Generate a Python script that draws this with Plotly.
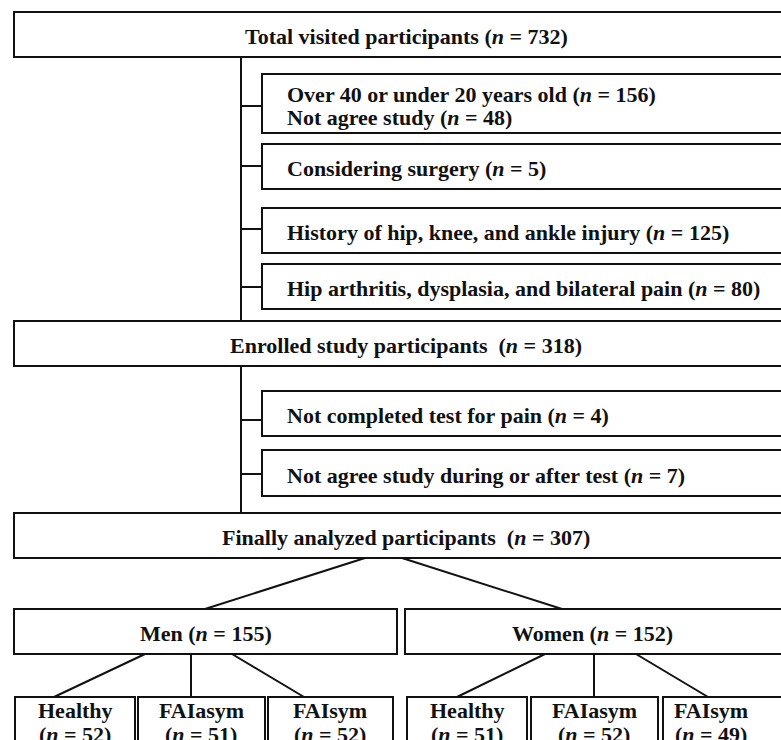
import plotly.graph_objects as go

# ---- data (labels and counts) ----
main_labels = ["Total visited participants", "Enrolled study participants ", "Finally analyzed participants "]
main_n = [732, 318, 307]

excl_labels = [
    ["Over 40 or under 20 years old", "Not agree study"],
    ["Considering surgery"],
    ["History of hip, knee, and ankle injury"],
    ["Hip arthritis, dysplasia, and bilateral pain"],
    ["Not completed test for pain"],
    ["Not agree study during or after test"],
]
excl_n = [[156, 48], [5], [125], [80], [4], [7]]

sex_labels = ["Men", "Women"]
sex_n = [155, 152]

group_labels = ["Healthy", "FAIasym", "FAIsym", "Healthy", "FAIasym", "FAIsym"]
group_n = [52, 51, 52, 51, 52, 49]

# ---- layout geometry (pixel-like coordinates) ----
main_y = [(12, 57), (321, 366), (513, 558)]
main_x = (14, 800)
main_text_x = 406
excl_y = [(74, 133), (144, 189), (208, 253), (264, 309), (391, 436), (450, 496)]
excl_x = (262, 800)
excl_text_x = 285
tick_y = [106, 166, 229, 287, 420, 474]
spine_x = 241
spines = [(57, 321), (366, 513)]
sex_x = [(14, 397), (405, 800)]
sex_y = (609, 654)
sex_text_x = [206, 592]
group_x = [(15, 135), (138, 265), (268, 393), (407, 527), (531, 658), (663, 800)]
group_text_x = [75, 201, 330, 467, 594, 711]
group_y = (697, 770)
group_text_y = (710, 734)
split_lines = [((365, 558), (205, 609)), ((402, 558), (562, 609))]
sub_lines = [
    ((145, 654), (54, 697)), ((191, 654), (191, 697)), ((232, 654), (304, 697)),
    ((545, 654), (457, 697)), ((594, 654), (594, 697)), ((636, 654), (708, 697)),
]
LINE_GAP = 23

FONT = dict(family="Liberation Serif", size=22, color="#111111")
LW = 2
LC = "#111111"

shapes = []
annotations = []

def rect(x0, y0, x1, y1):
    shapes.append(dict(type="rect", xref="x", yref="y", x0=x0, x1=x1, y0=y0, y1=y1,
                       line=dict(color=LC, width=LW), fillcolor="white", layer="below"))

def line(p0, p1):
    shapes.append(dict(type="line", xref="x", yref="y", x0=p0[0], y0=p0[1], x1=p1[0], y1=p1[1],
                       line=dict(color=LC, width=LW), layer="below"))

def text(x, y, s, xanchor="center"):
    annotations.append(dict(x=x, y=y, xref="x", yref="y", text=s, showarrow=False,
                            xanchor=xanchor, yanchor="middle", align="left" if xanchor == "left" else "center",
                            font=FONT))

def nlab(label, n):
    return f"<b>{label} (<i>n</i> = {n})</b>"

# spines and ticks
for (y0, y1) in spines:
    line((spine_x, y0), (spine_x, y1))
for ty in tick_y:
    line((spine_x, ty), (excl_x[0], ty))

# main boxes
for (y0, y1), lab, n in zip(main_y, main_labels, main_n):
    rect(main_x[0], y0, main_x[1], y1)
    text(main_text_x, (y0 + y1) / 2 + 2, nlab(lab, n))

# exclusion boxes
for (y0, y1), labs, ns in zip(excl_y, excl_labels, excl_n):
    rect(excl_x[0], y0, excl_x[1], y1)
    k = len(labs)
    yc = (y0 + y1) / 2 + 2
    for i, (l, n) in enumerate(zip(labs, ns)):
        text(excl_text_x, yc + (i - (k - 1) / 2) * LINE_GAP, nlab(l, n), xanchor="left")

# split lines
for p0, p1 in split_lines:
    line(p0, p1)

# sex boxes
for (x0, x1), tx, lab, n in zip(sex_x, sex_text_x, sex_labels, sex_n):
    rect(x0, sex_y[0], x1, sex_y[1])
    text(tx, (sex_y[0] + sex_y[1]) / 2 + 2, nlab(lab, n))

for p0, p1 in sub_lines:
    line(p0, p1)

# group boxes
for (x0, x1), tx, lab, n in zip(group_x, group_text_x, group_labels, group_n):
    rect(x0, group_y[0], x1, group_y[1])
    text(tx, group_text_y[0], f"<b>{lab}</b>")
    text(tx, group_text_y[1], f"<b>(<i>n</i> = {n})</b>")

fig = go.Figure()
fig.update_layout(
    width=781, height=740,
    margin=dict(l=0, r=0, t=0, b=0),
    paper_bgcolor="white", plot_bgcolor="white",
    xaxis=dict(range=[0, 781], visible=False, fixedrange=True),
    yaxis=dict(range=[740, 0], visible=False, fixedrange=True),
    shapes=shapes, annotations=annotations, showlegend=False,
)

fig.write_html(
    "out.html",
    config={"displayModeBar": False},
    post_script="document.body.style.margin='0';document.body.style.overflow='hidden';",
)
